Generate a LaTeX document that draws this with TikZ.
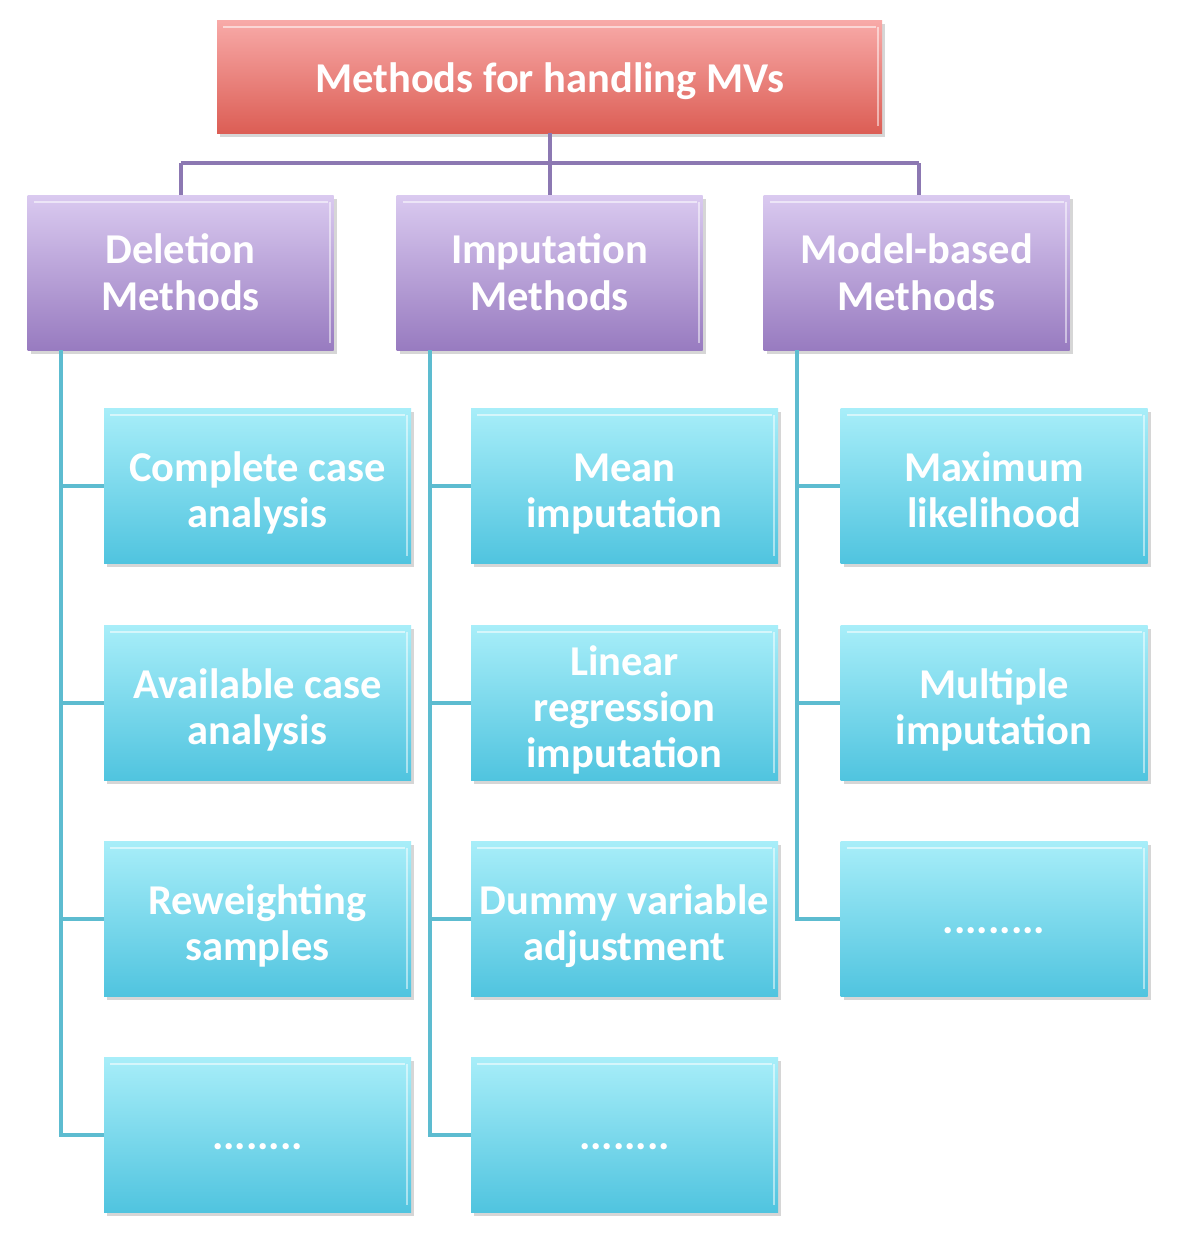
\documentclass[tikz,border=0pt]{standalone}
\usepackage{fontspec}
\setmainfont{Carlito}
\usetikzlibrary{shadows}
\definecolor{redtop}{HTML}{F8AAA8}
\definecolor{redbot}{HTML}{DC5E55}
\definecolor{purtop}{HTML}{DACAF0}
\definecolor{purbot}{HTML}{987BC0}
\definecolor{cyntop}{HTML}{A8EEF9}
\definecolor{cynbot}{HTML}{50C4DF}
\definecolor{purline}{HTML}{8C78B2}
\definecolor{cynline}{HTML}{5DBCD0}
\newcommand{\tstrut}{\rule{0pt}{47pt}}
\newcommand{\bstrut}{\rule[-10pt]{0pt}{10pt}}
\newcommand{\dstrut}{\rule[-4pt]{0pt}{38pt}}
\newcommand{\rstrut}{\rule[-9pt]{0pt}{49pt}}
\tikzset{
  boxbase/.style={rectangle, text=white, align=center, inner sep=0pt,
    drop shadow={shadow xshift=3pt, shadow yshift=-4pt, fill=black!35, opacity=0.45},
    path picture={\draw[white, opacity=0.55, line width=2.5pt]
      ([xshift=6pt,yshift=-7pt]path picture bounding box.north west) --
      ([xshift=-6pt,yshift=-7pt]path picture bounding box.north east);
      \draw[white, opacity=0.5, line width=2pt]
      ([xshift=-4pt,yshift=-7pt]path picture bounding box.north east) --
      ([xshift=-4pt,yshift=7pt]path picture bounding box.south east);}},
  rootbox/.style={boxbase, top color=redtop, bottom color=redbot,
    minimum width=665pt, minimum height=113pt, font=\bfseries\fontsize{42.5}{47}\selectfont},
  catbox/.style={boxbase, top color=purtop, bottom color=purbot,
    minimum width=306pt, minimum height=155pt,
    font=\bfseries\fontsize{42.5}{47}\selectfont},
  leafbox/.style={boxbase, top color=cyntop, bottom color=cynbot,
    minimum width=307pt, minimum height=155pt,
    font=\bfseries\fontsize{42.5}{46}\selectfont},
  purconn/.style={draw=purline, line width=4pt},
  cynconn/.style={draw=cynline, line width=4pt},
}
\begin{document}
\begin{tikzpicture}[x=1pt,y=-1pt]
\fill[white] (0,0) rectangle (1180,1242);
\useasboundingbox (0,0) rectangle (1180,1242);

\coordinate (bus) at (549.5,163);
\coordinate (pL) at (180.5,163);
\coordinate (pR) at (919,163);

\node[rootbox] (root) at (549.5,76.5) {\rstrut Methods for handling MVs};

\node[catbox] (del) at (180.5,272.5) {Deletion\\Methods};
\node[catbox] (imp) at (549.5,272.5) {Imputation\\Methods};
\node[catbox] (mod) at (916.5,272.5) {Model-based\\Methods};

\node[leafbox] (c11) at (257.5,485.5) {\tstrut Complete case\\analysis\bstrut};
\node[leafbox] (c12) at (257.5,702.5) {\tstrut Available case\\analysis\bstrut};
\node[leafbox] (c13) at (257.5,918.5) {\tstrut Reweighting\\samples\bstrut};
\node[leafbox] (c14) at (257.5,1134.5) {\dstrut ........};

\node[leafbox] (c21) at (624.5,485.5) {\tstrut Mean\\imputation\bstrut};
\node[leafbox] (c22) at (624.5,702.5) {\tstrut Linear\\regression\\imputation\bstrut};
\node[leafbox] (c23) at (624.5,918.5) {\tstrut Dummy variable\\adjustment\bstrut};
\node[leafbox] (c24) at (624.5,1134.5) {\dstrut ........};

\node[leafbox] (c31) at (994,485.5) {\tstrut Maximum\\likelihood\bstrut};
\node[leafbox] (c32) at (994,702.5) {\tstrut Multiple\\imputation\bstrut};
\node[leafbox] (c33) at (994,918.5) {\dstrut .........};

% purple connectors
\draw[purconn] (root.south) -- (bus);
\draw[purconn] (pL) -- (pR);
\draw[purconn] (bus) -- (imp.north);
\draw[purconn] (pL) -- (del.north);
\draw[purconn] (pR) -- (pR |- mod.north);

% cyan connectors
\draw[cynconn] ([xshift=34pt]del.south west) |- (c11.west);
\draw[cynconn] ([xshift=34pt]del.south west) |- (c12.west);
\draw[cynconn] ([xshift=34pt]del.south west) |- (c13.west);
\draw[cynconn] ([xshift=34pt]del.south west) |- (c14.west);

\draw[cynconn] ([xshift=34pt]imp.south west) |- (c21.west);
\draw[cynconn] ([xshift=34pt]imp.south west) |- (c22.west);
\draw[cynconn] ([xshift=34pt]imp.south west) |- (c23.west);
\draw[cynconn] ([xshift=34pt]imp.south west) |- (c24.west);

\draw[cynconn] ([xshift=34pt]mod.south west) |- (c31.west);
\draw[cynconn] ([xshift=34pt]mod.south west) |- (c32.west);
\draw[cynconn] ([xshift=34pt]mod.south west) |- (c33.west);
\end{tikzpicture}
\end{document}
